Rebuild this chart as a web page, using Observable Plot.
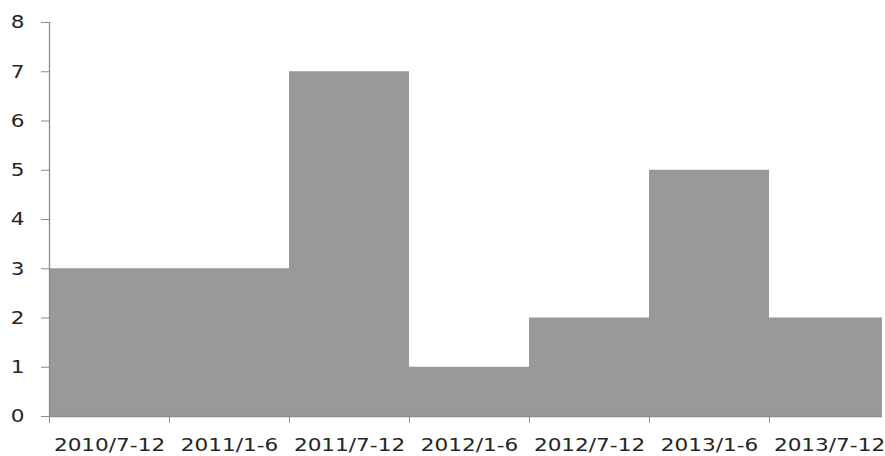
<!DOCTYPE html>
<html>
<head>
<meta charset="utf-8">
<script src="https://cdn.jsdelivr.net/npm/d3@7"></script>
<script src="https://cdn.jsdelivr.net/npm/@observablehq/plot@0.6"></script>
<style>
  html, body { margin: 0; padding: 0; background: #fff; }
  #chart { width: 885px; height: 456px; overflow: hidden; }
</style>
</head>
<body>
<div id="chart"></div>
<script>
const categories = ["2010/7-12", "2011/1-6", "2011/7-12", "2012/1-6", "2012/7-12", "2013/1-6", "2013/7-12"];
const values = [3, 3, 7, 1, 2, 5, 2];
const yTicks = [0, 1, 2, 3, 4, 5, 6, 7, 8];

const data = categories.map((c, i) => ({ category: c, index: i, value: values[i] }));
const boundaries = d3.range(categories.length);
const centers = categories.map((c, i) => i + 0.5);

const axisColor = "#8c8c8c";
const textColor = "#262626";
const font = "DejaVu Sans, Verdana, sans-serif";

const chart = Plot.plot({
  width: 885,
  height: 456,
  marginLeft: 49,
  marginRight: 3,
  marginTop: 22,
  marginBottom: 40,
  style: { fontFamily: font, background: "#fff" },
  x: { type: "linear", domain: [0, categories.length], range: [49, 889] },
  y: { domain: [0, 8] },
  marks: [
    Plot.rectY(data, {
      x1: "index",
      x2: d => d.index + 1,
      y1: 0,
      y2: "value",
      fill: "#999999",
      inset: 0,
      clip: true
    }),
    Plot.ruleX([0], { stroke: axisColor, strokeWidth: 1.3 }),
    Plot.ruleY([0], { stroke: axisColor, strokeWidth: 1.3 }),
    Plot.axisY({
      ticks: yTicks,
      tickSize: 8,
      tickPadding: 17,
      stroke: axisColor,
      fontSize: 18,
      fill: textColor,
      label: null
    }),
    Plot.axisX({
      ticks: boundaries,
      tickSize: 7,
      tickFormat: () => "",
      stroke: axisColor,
      label: null
    }),
    Plot.axisX({
      ticks: centers,
      tickSize: 0,
      tickPadding: 22,
      tickFormat: (d) => categories[Math.floor(d)],
      fontSize: 18,
      fill: textColor,
      label: null
    })
  ]
});

document.getElementById("chart").appendChild(chart);

// widen glyphs horizontally to match the reference's wide typeface
const stretch = 1.2;
d3.select(chart).selectAll("text").each(function () {
  const bb = this.getBBox();
  if (!bb.width) return;
  const anchor = getComputedStyle(this).textAnchor || this.getAttribute("text-anchor");
  let ax = bb.x + bb.width / 2;
  if (anchor === "end") ax = bb.x + bb.width;
  else if (anchor === "start") ax = bb.x;
  const prev = this.getAttribute("transform") || "";
  this.setAttribute("transform", `${prev} translate(${ax},0) scale(${stretch},1) translate(${-ax},0)`);
});
</script>
</body>
</html>
